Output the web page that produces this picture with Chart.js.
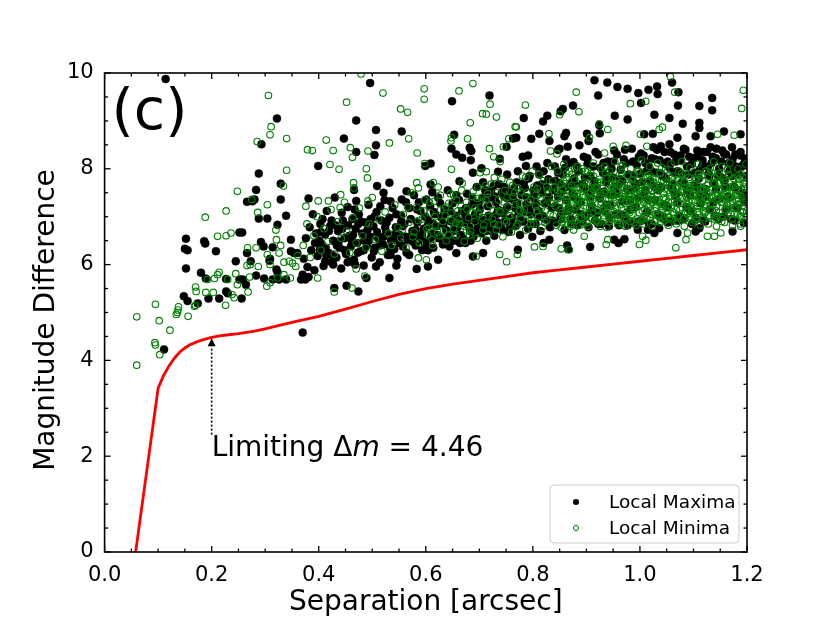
<!DOCTYPE html>
<html><head><meta charset="utf-8">
<script src="https://cdn.jsdelivr.net/npm/chart.js@4.4.1/dist/chart.umd.min.js"></script>
<style>html,body{margin:0;padding:0;background:#fff;}#wrap{width:830px;height:622px;}</style>
</head><body><div id="wrap"><canvas id="c" width="830" height="622"></canvas></div>
<script>
const xTicks = [0.0, 0.2, 0.4, 0.6, 0.8, 1.0, 1.2];
const yTicks = [0, 2, 4, 6, 8, 10];
const seriesNames = ['Local Maxima', 'Local Minima'];
const panelLabel = '(c)';
const xTitle = 'Separation [arcsec]';
const yTitle = 'Magnitude Difference';
const limitX = 0.2;
const limitY = 4.46;
const limitTailY = 2.45;
const limitTextY = 2.0;

// contrast curve (red)
const curveX = [0.058,0.1,0.11,0.12,0.13,0.14,0.15,0.16,0.18,0.2,0.22,0.25,0.28,0.3,0.33,0.36,0.4,0.45,0.5,0.55,0.6,0.65,0.7,0.75,0.8,0.85,0.9,0.95,1.0,1.05,1.1,1.15,1.2];
const curveY = [0,3.42,3.68,3.88,4.04,4.17,4.26,4.33,4.42,4.48,4.52,4.56,4.61,4.66,4.74,4.82,4.92,5.07,5.23,5.38,5.50,5.59,5.67,5.75,5.83,5.89,5.95,6.01,6.07,6.13,6.19,6.25,6.31];

// Local Maxima (black filled)
const maximaPts = [
[0.111,4.23],[0.114,9.875],[0.152,6.54],[0.150,6.33],[0.155,6.30],[0.152,5.92],[0.148,5.34],[0.155,5.24],[0.174,5.19],[0.180,5.83],[0.186,6.49],[0.188,6.44],[0.189,5.71],[0.194,5.29],[0.208,6.28],[0.214,5.29],[0.227,5.44],[0.230,5.40],[0.227,5.70],[0.245,6.07],[0.252,5.69],[0.258,5.69],[0.252,6.67],[0.257,6.67],[0.256,5.29],[0.264,5.58],[0.266,6.24],[0.273,6.07],[0.266,7.31],[0.276,7.32],[0.283,5.77],[0.288,6.96],[0.304,6.96],[0.298,5.71],[0.292,6.47],[0.297,6.38],[0.314,6.36],[0.309,6.12],[0.308,6.08],[0.321,5.90],[0.323,5.84],[0.326,5.69],[0.314,5.69],[0.323,6.83],[0.339,7.02],[0.348,6.52],[0.339,5.69],[0.348,6.28],[0.354,6.24],[0.360,6.24],[0.370,4.58],[0.367,5.69],[0.370,5.79],
[0.322,9.05],[0.293,8.51],[0.288,7.90],[0.329,7.69],[0.283,7.56],[0.280,7.36],[0.329,7.36],
[0.496,9.79],[0.649,9.41],[0.719,9.53],[0.470,9.01],[0.507,8.81],[0.555,8.78],[0.447,8.63],[0.507,8.49],[0.504,8.29],[0.470,8.35],[0.399,8.06],[0.653,8.71],[0.648,8.42],[0.657,8.30],[0.668,8.23],[0.682,8.44],[0.685,8.37],[0.684,8.18],[0.609,8.11],[0.599,8.06],[0.763,8.63],[0.751,8.46],[0.738,8.21],[0.704,8.01],[0.735,7.94],[0.532,7.71],[0.521,7.50],[0.509,7.64],[0.534,7.32],[0.466,7.56],[0.470,7.33],[0.381,7.38],[0.564,7.53],[0.555,7.36],[0.609,7.67],[0.612,7.51],[0.601,7.36],[0.688,7.92],[0.663,7.74],
[0.375,5.69],[0.381,5.74],[0.429,5.51],[0.452,5.56],[0.474,5.44],[0.489,5.72],[0.532,5.72],[0.507,5.96],[0.545,5.98],[0.583,5.91],[0.604,5.96],[0.623,6.10],[0.657,6.24],[0.688,6.17],[0.707,6.24],[0.468,6.0],[0.458,6.07],[0.393,6.45],[0.402,6.31],[0.412,6.07],[0.427,6.0],
[0.915,9.85],[0.939,9.80],[0.958,9.71],[0.977,9.67],[0.997,9.58],[1.016,9.65],[1.032,9.72],[1.033,9.56],[0.922,9.53],[1.06,9.80],[1.072,9.60],[1.071,9.32],[1.135,9.48],[1.135,9.22],[1.111,9.31],[1.002,9.375],[0.856,9.25],[0.852,9.20],[0.827,9.11],[0.819,8.99],[0.783,9.06],[0.875,9.32],[0.953,9.11],[0.977,9.03],[1.027,9.13],[1.055,9.06],[1.080,8.94],[1.111,8.96],[1.111,8.85],[1.157,8.78],[0.924,8.91],[0.925,8.74],[0.812,8.73],[0.797,8.625],[0.831,8.58],[0.862,8.75],[0.859,8.68],[0.901,8.73],[0.904,8.58],[0.887,8.49],[0.865,8.46],[0.850,8.42],[1.008,8.72],[1.024,8.73],[1.055,8.51],[1.039,8.47],[1.070,8.65],[1.104,8.68],[1.132,8.68],[1.188,8.72],[0.791,8.28],[0.781,8.25],[0.787,8.06],[0.847,8.39],[0.876,8.14],[0.769,8.65],
[0.772,6.31],[0.820,6.45],[0.831,6.52],[0.864,6.40],[0.866,6.32],[0.907,6.37],[0.952,6.52],[0.971,6.53],[0.960,6.45],[1.027,6.66],[1.036,6.76],[1.070,6.66],[1.104,6.69],[1.111,6.76],[1.173,6.69],[1.194,6.87],[0.996,6.73],[1.015,6.73],
[0.372,6.12],[0.376,6.55],[0.379,5.95],[0.383,6.78],[0.386,6.30],[0.389,7.05],[0.392,5.88],[0.395,6.65],[0.398,6.18],
[0.403,6.85],[0.406,6.42],[0.409,5.97],[0.412,6.63],[0.415,7.12],[0.418,6.25],[0.421,6.80],[0.424,6.05],[0.427,6.50],[0.430,7.40],[0.433,6.15],[0.436,6.70],[0.439,6.35],[0.442,5.92],[0.445,6.92],[0.448,6.55],
[0.451,6.22],[0.454,7.20],[0.457,6.60],[0.460,6.38],[0.463,6.95],[0.466,6.10],[0.469,6.75],[0.472,6.45],[0.475,7.05],[0.478,6.28],[0.481,6.65],[0.484,5.98],[0.487,6.88],[0.490,6.40],[0.493,7.25],[0.496,6.58],[0.499,6.15],
[0.502,6.80],[0.505,6.35],[0.508,7.10],[0.511,6.55],[0.514,6.05],[0.517,6.92],[0.520,6.42],[0.523,7.35],[0.526,6.68],[0.529,6.20],[0.532,6.98],[0.535,6.50],[0.538,7.18],[0.541,6.32],[0.544,6.78],[0.547,6.12],
[0.551,6.62],[0.554,7.02],[0.557,6.38],[0.560,6.85],[0.563,7.30],[0.566,6.52],[0.569,6.20],[0.572,6.95],[0.575,6.70],[0.578,7.45],[0.581,6.40],[0.584,6.88],[0.587,6.58],[0.590,7.12],[0.593,6.30],[0.596,6.75],[0.599,7.00],
[0.602,6.48],[0.605,6.92],[0.608,7.22],[0.611,6.65],[0.614,6.35],[0.617,7.05],[0.620,6.80],[0.623,7.40],[0.626,6.55],[0.629,6.98],[0.632,6.42],[0.635,7.15],[0.638,6.72],[0.641,7.55],[0.644,6.60],[0.647,6.90],[0.650,7.28],
[0.653,6.50],[0.656,7.02],[0.659,6.78],[0.662,7.35],[0.665,6.62],[0.668,7.12],[0.671,6.88],[0.674,6.45],[0.677,7.48],[0.680,6.95],[0.683,6.70],[0.686,7.25],[0.689,6.58],[0.692,7.05],[0.695,7.62],[0.698,6.82],
[0.701,7.15],[0.704,6.65],[0.707,7.40],[0.710,6.92],[0.713,6.50],[0.716,7.22],[0.719,6.78],[0.722,7.55],[0.725,7.00],[0.728,6.60],[0.731,7.30],[0.734,6.88],[0.737,7.68],[0.740,7.08],[0.743,6.72],[0.746,7.42],[0.749,6.95],
[0.752,7.20],[0.755,6.68],[0.758,7.52],[0.761,6.98],[0.764,7.35],[0.767,6.80],[0.770,7.72],[0.773,7.10],[0.776,6.62],[0.779,7.45],[0.782,6.90],[0.785,7.60],[0.788,7.25],[0.791,6.75],[0.794,7.85],[0.797,7.05],[0.799,6.58],
[0.802,7.38],[0.805,6.85],[0.808,7.65],[0.811,7.12],[0.814,6.70],[0.817,7.50],[0.820,7.95],[0.823,6.95],[0.826,7.30],[0.829,7.78],[0.832,6.78],[0.835,7.18],[0.838,7.58],[0.841,8.05],[0.844,6.88],[0.847,7.42],[0.850,7.70],
[0.853,7.05],[0.856,7.88],[0.859,6.72],[0.862,7.35],[0.865,7.62],[0.868,8.12],[0.871,6.95],[0.874,7.48],[0.877,7.80],[0.880,7.15],[0.883,6.82],[0.886,7.95],[0.889,7.30],[0.892,7.68],[0.895,8.25],[0.898,7.00],
[0.901,7.55],[0.904,6.78],[0.907,7.85],[0.910,7.22],[0.913,8.05],[0.916,6.92],[0.919,7.62],[0.922,8.30],[0.925,7.38],[0.928,6.85],[0.931,7.92],[0.934,7.12],[0.937,7.72],[0.940,8.15],[0.943,6.98],[0.946,7.45],[0.949,7.82],
[0.952,8.38],[0.955,7.05],[0.958,7.65],[0.961,6.82],[0.964,7.98],[0.967,7.32],[0.970,8.20],[0.973,6.95],[0.976,7.58],[0.979,7.88],[0.982,7.15],[0.985,8.42],[0.988,6.88],[0.991,7.70],[0.994,8.08],[0.997,7.40],
[1.001,7.90],[1.004,6.92],[1.007,8.28],[1.010,7.55],[1.013,7.10],[1.016,8.05],[1.019,7.75],[1.022,6.85],[1.025,8.45],[1.028,7.35],[1.031,7.92],[1.034,7.05],[1.037,8.18],[1.040,7.62],[1.043,6.98],[1.046,8.35],[1.049,7.80],
[1.052,7.20],[1.055,8.02],[1.058,6.90],[1.061,7.68],[1.064,8.30],[1.067,7.45],[1.070,7.95],[1.073,7.02],[1.076,8.18],[1.079,7.72],[1.082,6.95],[1.085,8.40],[1.088,7.55],[1.091,7.88],[1.094,7.12],[1.097,8.10],
[1.101,7.65],[1.104,6.98],[1.107,8.25],[1.110,7.80],[1.113,7.28],[1.116,8.05],[1.119,6.92],[1.122,7.58],[1.125,8.35],[1.128,7.90],[1.131,7.15],[1.134,8.12],[1.137,7.70],[1.140,7.02],[1.143,8.42],[1.146,7.85],[1.149,7.38],
[1.152,8.15],[1.155,7.00],[1.158,7.75],[1.161,8.30],[1.164,7.42],[1.167,7.95],[1.170,6.95],[1.173,8.20],[1.176,7.62],[1.179,8.05],[1.182,7.18],[1.185,7.88],[1.188,8.35],[1.191,7.50],[1.194,8.10],[1.197,7.30],[1.199,7.85],
[0.401,6.50],[0.407,6.95],[0.413,6.35],[0.419,6.70],[0.425,6.20],[0.431,6.82],[0.437,6.48],[0.443,7.08],[0.449,6.30],[0.455,6.82],[0.461,6.52],[0.467,7.15],[0.473,6.25],[0.479,6.90],[0.485,6.50],[0.491,6.72],[0.497,6.95],[0.503,6.28],[0.509,6.68],[0.515,7.22],[0.521,6.58],[0.527,6.88],[0.533,6.35],[0.539,6.62],[0.545,7.05],[0.551,6.45],[0.557,6.80],[0.563,6.58],[0.569,7.18],[0.575,6.48],[0.581,6.72],[0.587,7.30],[0.593,6.62],[0.599,6.40],
[0.604,6.82],[0.609,6.55],[0.615,7.10],[0.621,6.62],[0.627,7.28],[0.633,6.85],[0.639,6.52],[0.645,7.12],[0.651,6.70],[0.657,7.45],[0.663,6.90],[0.669,6.55],[0.675,7.18],[0.681,6.78],[0.687,7.38],[0.693,6.90],[0.699,7.28],[0.705,6.80],[0.711,7.55],[0.717,7.02],[0.723,6.70],[0.729,7.42],[0.735,7.15],[0.741,6.85],[0.747,7.62],[0.753,7.38],[0.759,6.88],[0.765,7.58],[0.771,7.28],[0.777,6.95],[0.783,7.70],[0.789,7.40],[0.795,7.18],
[0.801,7.55],[0.806,7.25],[0.812,7.88],[0.818,7.02],[0.824,7.62],[0.830,7.40],[0.836,6.92],[0.842,7.75],[0.848,7.18],[0.854,7.52],[0.860,8.02],[0.866,7.12],[0.872,7.70],[0.878,7.40],[0.884,7.95],[0.890,7.05],[0.896,7.62],[0.902,8.10],[0.908,7.42],[0.914,7.75],[0.920,7.08],[0.926,8.02],[0.932,7.52],[0.938,7.85],[0.944,7.25],[0.950,8.15],[0.956,7.48],[0.962,7.78],[0.968,7.02],[0.974,8.12],[0.980,7.55],[0.986,7.85],[0.992,7.20],[0.998,8.25],
[1.004,7.72],[1.010,8.12],[1.016,7.35],[1.022,7.95],[1.028,8.20],[1.034,7.55],[1.040,7.88],[1.046,7.25],[1.052,8.15],[1.058,7.62],[1.064,7.92],[1.070,7.30],[1.076,8.28],[1.082,7.70],[1.088,8.05],[1.094,7.45],[1.100,8.22],[1.106,7.62],[1.112,7.98],[1.118,8.35],[1.124,7.42],[1.130,7.85],[1.136,8.25],[1.142,7.58],[1.148,8.00],[1.154,8.38],[1.160,7.62],[1.166,8.12],[1.172,7.85],[1.178,8.30],[1.184,7.55],[1.190,8.05],[1.196,8.22],
[0.702,6.95],[0.707,7.72],[0.712,6.70],[0.717,7.38],[0.722,6.88],[0.727,7.65],[0.732,7.05],[0.737,6.75],[0.742,7.50],[0.747,7.12],[0.752,7.88],[0.757,6.82],[0.762,7.45],[0.767,7.18],[0.772,7.95],[0.777,6.90],[0.782,7.62],[0.787,7.10],[0.792,7.80],[0.797,6.85],[0.802,7.45],[0.807,8.05],[0.812,7.00],[0.817,7.68],[0.822,7.28],[0.827,8.12],[0.832,6.88],[0.837,7.55],[0.842,7.22],[0.847,7.92],[0.852,6.95],[0.857,7.60],[0.862,8.20],[0.867,7.18],[0.872,6.85],[0.877,7.70],[0.882,8.05],[0.887,7.30],[0.892,6.90],[0.897,7.82],[0.902,8.22],[0.907,7.08],[0.912,7.60],[0.917,8.35],[0.922,6.85],[0.927,7.48],[0.932,8.12],[0.937,7.25],[0.942,6.80],[0.947,8.00],[0.952,7.62],[0.957,8.30],[0.962,7.05],[0.967,7.75],[0.972,8.40],[0.977,6.82],[0.982,7.35],[0.987,8.15],[0.992,7.60],[0.997,6.90],[1.002,8.32],[1.007,7.45],[1.012,7.95],[1.017,6.85],[1.022,8.22],[1.027,7.62],[1.032,8.40],[1.037,7.00],[1.042,7.85],[1.047,8.10],[1.052,6.88],[1.057,8.35],[1.062,7.55],[1.067,8.15],[1.072,6.92],[1.077,7.90],[1.082,8.42],[1.087,7.20],[1.092,8.25],[1.097,6.85],[1.102,7.92],[1.107,8.38],[1.112,7.45],[1.117,8.18],[1.122,6.90],[1.127,8.05],[1.132,8.45],[1.137,7.30],[1.142,8.22],[1.147,6.95],[1.152,7.82],[1.157,8.32],[1.162,7.15],[1.167,8.10],[1.172,8.45],[1.177,6.92],[1.182,7.95],[1.187,8.28],[1.192,7.40],[1.197,8.15],
[0.404,6.68],[0.414,6.20],[0.424,6.92],[0.434,6.40],[0.444,6.75],[0.454,6.05],[0.464,6.62],[0.474,6.85],[0.484,6.30],[0.494,6.50],[0.504,7.00],[0.514,6.40],[0.524,6.78],[0.534,6.20],[0.544,6.55],[0.554,6.90],[0.564,6.25],[0.574,6.60],[0.584,7.15],[0.594,6.50],[0.604,6.30],[0.614,6.85],[0.624,6.55],[0.634,7.05],[0.644,6.38],[0.654,6.85],[0.664,6.45],[0.674,7.02],[0.684,6.50],[0.694,6.72]
];

// Local Minima (green open)
const minimaPts = [
[0.060,4.91],[0.060,3.90],[0.095,5.17],[0.102,4.83],[0.094,4.37],[0.095,4.32],[0.103,4.12],[0.122,4.63],[0.134,4.96],[0.136,5.00],[0.138,5.12],[0.137,5.05],[0.156,4.92],[0.170,5.53],[0.171,5.44],[0.168,5.13],[0.170,5.15],[0.188,6.99],[0.189,5.42],[0.192,5.69],[0.203,5.42],[0.205,5.71],[0.211,5.79],[0.214,5.84],[0.211,6.59],[0.227,6.60],[0.236,6.66],[0.227,7.12],[0.230,5.69],[0.226,5.15],[0.238,5.375],[0.242,5.31],[0.245,5.81],[0.248,5.58],[0.267,6.35],[0.266,5.98],[0.272,6.0],[0.271,5.74],[0.268,5.43],[0.283,6.35],[0.287,5.96],[0.286,7.09],[0.304,7.25],[0.303,5.55],[0.309,5.62],[0.304,6.21],[0.309,6.0],[0.320,6.72],[0.321,6.52],[0.329,6.40],[0.326,6.24],[0.335,6.05],[0.345,6.07],[0.351,6.03],[0.323,5.72],[0.335,5.79],[0.347,5.72],[0.357,5.96],[0.361,6.19],
[0.306,9.53],[0.311,8.88],[0.309,8.71],[0.340,8.63],[0.285,8.57],[0.340,7.97],[0.334,7.64],[0.248,7.53],[0.275,7.36],
[0.479,9.98],[0.520,9.58],[0.597,9.67],[0.597,9.45],[0.662,9.625],[0.688,9.78],[0.452,9.39],[0.553,9.25],[0.566,9.18],[0.720,9.35],[0.706,9.15],[0.713,9.14],[0.732,9.08],[0.683,8.96],[0.767,8.88],[0.414,8.60],[0.379,8.40],[0.388,8.38],[0.427,8.38],[0.459,8.44],[0.463,8.24],[0.492,8.37],[0.532,8.54],[0.568,8.625],[0.584,8.33],[0.647,8.58],[0.648,8.65],[0.678,8.625],[0.719,8.42],[0.727,8.25],[0.739,8.15],[0.745,8.46],[0.755,8.625],[0.421,8.09],[0.438,7.99],[0.489,8.0],[0.491,7.81],[0.598,8.11],[0.648,7.99],[0.376,7.22],[0.399,7.33],[0.418,7.33],[0.440,7.19],[0.465,7.71],[0.466,7.60],[0.492,7.33],[0.441,7.46],[0.583,7.71],[0.586,7.60],[0.614,7.71],[0.701,7.92],[0.713,7.94],
[0.398,5.72],[0.429,5.43],[0.462,5.51],[0.486,5.76],[0.470,5.91],[0.586,6.14],[0.601,6.10],[0.694,6.17],[0.738,6.21],[0.751,6.06],
[1.057,9.92],[1.193,9.64],[1.190,9.26],[0.881,9.60],[0.786,9.33],[1.065,9.60],[0.982,9.36],[1.011,9.41],[0.886,9.19],[0.850,9.13],[0.769,8.875],[0.924,8.94],[0.940,8.82],[1.042,8.87],[1.036,8.82],[1.001,8.72],[0.830,8.73],[0.974,8.49],[1.013,8.47],[1.145,8.72],[1.176,8.70],[0.833,8.37],[0.845,8.31],[0.906,8.65],[0.934,8.33],[0.950,8.47],
[0.771,6.21],[0.803,6.37],[0.819,6.38],[0.853,6.33],[0.868,6.31],[0.896,6.59],[0.937,6.42],[0.940,6.52],[0.999,6.42],[1.011,6.51],[1.005,6.59],[1.067,6.35],[1.086,6.52],[1.089,6.66],[1.126,6.59],[1.139,6.59],[1.151,6.66],[1.188,6.80],
[0.371,6.40],[0.378,6.85],[0.384,6.15],[0.391,6.60],[0.397,7.00],[0.404,6.30],[0.410,6.75],[0.417,6.48],[0.423,7.15],[0.429,6.22],[0.436,6.90],[0.442,6.55],[0.448,7.30],
[0.452,6.70],[0.458,6.25],[0.464,6.98],[0.470,6.45],[0.476,7.18],[0.482,6.60],[0.488,6.35],[0.494,6.85],[0.500,7.40],[0.506,6.52],[0.512,6.95],[0.518,6.28],[0.524,7.10],[0.530,6.65],[0.536,6.40],[0.542,7.25],[0.548,6.78],
[0.553,6.55],[0.558,7.05],[0.563,6.35],[0.568,6.88],[0.573,7.50],[0.578,6.68],[0.583,7.20],[0.588,6.45],[0.593,6.95],[0.598,7.35],[0.603,6.62],[0.608,7.08],[0.613,6.40],[0.618,6.82],[0.623,7.62],[0.628,7.15],[0.633,6.70],[0.638,6.50],[0.643,7.28],[0.648,6.92],
[0.652,7.45],[0.656,6.60],[0.660,7.12],[0.664,6.85],[0.668,7.70],[0.672,6.48],[0.676,7.30],[0.680,6.98],[0.684,6.70],[0.688,7.52],[0.692,7.18],[0.696,6.55],[0.700,7.05],[0.704,7.40],[0.708,6.82],[0.712,7.65],[0.716,6.62],[0.720,7.25],[0.724,6.95],[0.728,7.82],[0.732,6.72],[0.736,7.35],[0.740,7.10],[0.744,6.58],[0.748,7.55],
[0.751,6.88],[0.754,7.20],[0.757,7.72],[0.760,6.68],[0.763,7.42],[0.766,7.05],[0.769,6.80],[0.772,7.60],[0.775,7.28],[0.778,6.95],[0.781,7.85],[0.784,7.15],[0.787,6.72],[0.790,7.50],[0.793,7.02],[0.796,7.35],[0.799,7.95],[0.802,6.85],[0.805,7.22],[0.808,7.58],[0.811,7.00],[0.814,7.40],[0.817,6.78],[0.820,7.75],[0.823,7.12],[0.826,6.92],[0.829,7.48],[0.832,7.30],[0.835,8.05],[0.838,7.02],[0.841,7.62],[0.844,6.82],[0.847,7.38],
[0.851,7.15],[0.853,7.68],[0.856,6.95],[0.858,7.45],[0.861,7.25],[0.863,7.90],[0.866,6.85],[0.868,7.55],[0.871,7.10],[0.873,7.35],[0.876,6.72],[0.878,7.78],[0.881,7.20],[0.883,7.48],[0.886,6.98],[0.888,7.62],[0.891,7.30],[0.893,8.00],[0.896,7.05],[0.898,7.42],[0.901,6.88],[0.903,7.70],[0.906,7.18],[0.908,7.52],[0.911,6.95],[0.913,7.85],[0.916,7.28],[0.918,7.60],[0.921,7.00],[0.923,7.40],[0.926,6.80],[0.928,7.72],[0.931,7.15],[0.933,7.50],[0.936,7.92],[0.938,7.08],[0.941,7.35],[0.943,6.90],[0.946,7.65],[0.948,7.25],
[0.951,7.45],[0.953,6.98],[0.955,7.78],[0.957,7.18],[0.959,7.55],[0.961,7.02],[0.963,7.38],[0.965,8.05],[0.967,6.85],[0.969,7.62],[0.971,7.28],[0.973,7.48],[0.975,6.95],[0.977,7.85],[0.979,7.12],[0.981,7.42],[0.983,7.68],[0.985,7.05],[0.987,7.32],[0.989,6.88],[0.991,7.58],[0.993,7.22],[0.995,7.95],[0.997,7.40],[0.999,7.08],[1.001,7.52],[1.003,6.92],[1.005,7.72],[1.007,7.30],[1.009,7.15],[1.011,7.60],[1.013,6.98],[1.015,7.45],[1.017,7.88],[1.019,7.25],[1.021,7.05],[1.023,7.55],[1.025,7.35],[1.027,6.90],[1.029,7.78],[1.031,7.18],[1.033,7.48],[1.035,7.02],[1.037,7.65],[1.039,7.28],[1.041,8.02],[1.043,6.95],[1.045,7.40],[1.047,7.58],[1.049,7.12],
[1.051,7.70],[1.053,7.32],[1.055,6.98],[1.057,7.50],[1.059,7.20],[1.061,7.85],[1.063,7.05],[1.065,7.42],[1.067,7.62],[1.069,6.90],[1.071,7.28],[1.073,7.95],[1.075,7.15],[1.077,7.55],[1.079,7.38],[1.081,6.95],[1.083,7.72],[1.085,7.10],[1.087,7.48],[1.089,7.25],[1.091,7.82],[1.093,7.00],[1.095,7.60],[1.097,7.35],[1.099,7.12],
[1.101,7.68],[1.103,6.92],[1.105,7.45],[1.107,7.22],[1.109,7.90],[1.111,7.05],[1.113,7.58],[1.115,7.32],[1.117,7.75],[1.119,6.98],[1.121,7.40],[1.123,7.18],[1.125,7.65],[1.127,7.02],[1.129,7.50],[1.131,8.00],[1.133,7.28],[1.135,7.12],[1.137,7.70],[1.139,6.95],[1.141,7.45],[1.143,7.22],[1.145,7.85],[1.147,7.38],[1.149,7.08],
[1.151,7.55],[1.153,6.90],[1.155,7.30],[1.157,7.72],[1.159,7.15],[1.161,7.48],[1.163,7.98],[1.165,7.02],[1.167,7.62],[1.169,7.25],[1.171,7.40],[1.173,6.95],[1.175,7.80],[1.177,7.18],[1.179,7.52],[1.181,7.35],[1.183,7.05],[1.185,7.68],[1.187,7.28],[1.189,7.90],[1.191,7.10],[1.193,7.45],[1.195,7.62],[1.197,7.00],[1.199,7.38],
[0.556,6.72],[0.566,7.20],[0.576,6.58],[0.586,6.92],[0.596,7.12],[0.606,6.78],[0.616,7.32],[0.626,6.60],[0.636,7.02],[0.646,7.48],[0.656,6.88],[0.666,7.22],[0.676,6.72],[0.686,7.10],[0.696,7.38],[0.706,6.98],[0.716,7.48],[0.726,7.12],[0.736,6.82],[0.746,7.30],[0.756,7.02],[0.766,7.50],[0.776,7.12],[0.786,7.42],[0.796,6.85],[0.806,7.45],[0.816,7.18],[0.826,7.62],[0.836,7.28],[0.846,7.55],
[0.852,7.32],[0.856,7.58],[0.860,7.02],[0.864,7.42],[0.868,7.18],[0.872,7.65],[0.876,7.28],[0.880,6.92],[0.884,7.55],[0.888,7.12],[0.892,7.40],[0.896,7.72],[0.900,7.22],[0.904,7.48],[0.908,6.98],[0.912,7.35],[0.916,7.62],[0.920,7.15],[0.924,7.78],[0.928,7.30],[0.932,6.95],[0.936,7.55],[0.940,7.20],[0.944,7.45],[0.948,7.80],[0.952,7.10],[0.956,7.35],[0.960,7.65],[0.964,7.25],[0.968,7.48],[0.972,7.05],[0.976,7.70],[0.980,7.32],[0.984,7.55],[0.988,7.15],[0.992,7.40],[0.996,7.75],[1.000,7.25],[1.004,7.48],[1.008,7.02],[1.012,7.65],[1.016,7.20],[1.020,7.42],[1.024,7.80],[1.028,7.12],[1.032,7.35],[1.036,7.58],[1.040,7.22],[1.044,7.72],[1.048,7.38],[1.052,7.05],[1.056,7.62],[1.060,7.30],[1.064,7.50],[1.068,7.15],[1.072,7.75],[1.076,7.28],[1.080,7.52],[1.084,6.98],[1.088,7.40],[1.092,7.65],[1.096,7.20],[1.100,7.45],[1.104,7.82],[1.108,7.10],[1.112,7.38],[1.116,7.60],[1.120,7.25],[1.124,7.52],[1.128,7.85],[1.132,7.15],[1.136,7.42],[1.140,7.68],[1.144,7.02],[1.148,7.55],[1.152,7.30],[1.156,7.48],[1.160,7.78],[1.164,7.18],[1.168,7.40],[1.172,7.62],[1.176,7.05],[1.180,7.58],[1.184,7.25],[1.188,7.50],[1.192,7.82],[1.196,7.20],
[0.854,6.88],[0.862,7.82],[0.870,6.80],[0.878,8.00],[0.886,7.35],[0.894,6.85],[0.902,7.95],[0.910,7.60],[0.918,6.90],[0.926,7.50],[0.934,8.05],[0.942,7.00],[0.950,7.60],[0.958,6.92],[0.966,7.92],[0.974,7.40],[0.982,6.90],[0.990,7.88],[0.998,7.55],[1.006,6.95],[1.014,7.85],[1.022,7.30],[1.030,6.92],[1.038,7.90],[1.046,7.00],[1.054,7.85],[1.062,6.95],[1.070,7.62],[1.078,7.90],[1.086,7.32],[1.094,6.95],[1.102,7.55],[1.110,7.88],[1.118,7.12],[1.126,7.35],[1.134,7.92],[1.142,6.98],[1.150,7.72],[1.158,7.35],[1.166,7.88],[1.174,7.30],[1.182,7.85],[1.190,7.00],[1.198,7.68],
[0.8515,7.48],[0.8545,7.08],[0.8575,7.75],[0.8605,6.95],[0.8635,7.32],[0.8665,7.62],[0.8695,7.15],[0.8725,7.88],[0.8755,7.40],[0.8785,7.00],[0.8815,7.58],[0.8845,7.25],[0.8875,7.82],[0.8905,6.98],[0.8935,7.45],[0.8965,7.30],[0.8995,7.68],[0.9025,7.05],[0.9055,7.38],[0.9085,7.90],[0.9115,7.20],[0.9145,7.55],[0.9175,6.92],[0.9205,7.72],[0.9235,7.12],[0.9265,7.45],[0.9295,7.62],[0.9325,7.02],[0.9355,7.35],[0.9385,7.80],[0.9415,7.15],[0.9445,7.58],[0.9475,6.95],[0.9505,7.28],[0.9535,7.70],[0.9565,7.05],[0.9595,7.42],[0.9625,7.88],[0.9655,7.18],[0.9685,7.55],[0.9715,6.98],[0.9745,7.32],[0.9775,7.65],[0.9805,7.08],[0.9835,7.45],[0.9865,7.78],[0.9895,7.22],[0.9925,7.52],[0.9955,6.95],[0.9985,7.35],
[1.0015,7.68],[1.0045,7.12],[1.0075,7.48],[1.0105,7.85],[1.0135,7.25],[1.0165,7.58],[1.0195,6.98],[1.0225,7.40],[1.0255,7.72],[1.0285,7.05],[1.0315,7.55],[1.0345,7.30],[1.0375,7.92],[1.0405,7.15],[1.0435,7.48],[1.0465,6.92],[1.0495,7.65],[1.0525,7.22],[1.0555,7.42],[1.0585,7.80],[1.0615,7.10],[1.0645,7.35],[1.0675,7.58],[1.0705,7.00],[1.0735,7.45],[1.0765,7.72],[1.0795,7.18],[1.0825,7.52],[1.0855,7.88],[1.0885,7.05],[1.0915,7.30],[1.0945,7.62],[1.0975,7.15],
[1.1005,7.48],[1.1035,7.75],[1.1065,6.95],[1.1095,7.40],[1.1125,7.22],[1.1155,7.85],[1.1185,7.55],[1.1215,7.08],[1.1245,7.35],[1.1275,7.68],[1.1305,7.00],[1.1335,7.58],[1.1365,7.25],[1.1395,7.82],[1.1425,7.12],[1.1455,7.45],[1.1485,7.70],[1.1515,6.98],[1.1545,7.38],[1.1575,7.60],[1.1605,7.15],[1.1635,7.50],[1.1665,7.85],[1.1695,7.05],[1.1725,7.32],[1.1755,7.65],[1.1785,7.20],[1.1815,7.45],[1.1845,7.78],[1.1875,7.02],[1.1905,7.55],[1.1935,7.30],[1.1965,7.72],[1.1995,7.12],
[0.853,6.78],[0.858,8.10],[0.863,7.05],[0.868,7.95],[0.873,6.85],[0.878,7.50],[0.883,8.05],[0.888,6.82],[0.893,7.60],[0.898,7.95],[0.903,6.80],[0.908,7.28],[0.913,8.12],[0.918,7.45],[0.923,6.88],[0.928,8.00],[0.933,7.20],[0.938,6.78],[0.943,7.95],[0.948,7.50],[0.953,8.15],[0.958,6.85],[0.963,7.70],[0.968,8.08],[0.973,6.80],[0.978,7.45],[0.983,8.00],[0.988,7.28],[0.993,6.82],[0.998,7.95],
[1.003,8.18],[1.008,6.85],[1.013,7.35],[1.018,8.05],[1.023,6.80],[1.028,7.62],[1.033,8.12],[1.038,6.88],[1.043,7.25],[1.048,7.98],[1.053,6.82],[1.058,8.10],[1.063,7.50],[1.068,6.85],[1.073,7.78],[1.078,8.15],[1.083,6.80],[1.088,7.62],[1.093,8.02],[1.098,6.88],[1.103,7.30],[1.108,8.10],[1.113,6.82],[1.118,7.58],[1.123,7.95],[1.128,6.85],[1.133,7.40],[1.138,8.15],[1.143,6.80],[1.148,7.90],[1.153,8.05],[1.158,6.88],[1.163,7.25],[1.168,8.12],[1.173,6.82],[1.178,7.45],[1.183,8.00],[1.188,6.85],[1.193,7.70],[1.198,8.10],
[0.602,6.75],[0.607,7.30],[0.612,6.52],[0.617,7.00],[0.622,6.68],[0.627,7.45],[0.632,6.90],[0.637,7.20],[0.642,6.62],[0.647,7.08],[0.652,6.75],[0.657,7.35],[0.662,6.95],[0.667,7.55],[0.672,6.80],[0.677,7.15],[0.682,6.62],[0.687,7.42],[0.692,6.90],[0.697,7.62],[0.702,7.20],[0.707,6.72],[0.712,7.35],[0.717,7.00],[0.722,7.68],[0.727,6.85],[0.732,7.50],[0.737,7.12],[0.742,7.78],[0.747,6.92],[0.752,7.40],[0.757,7.02],[0.762,7.65],[0.767,7.25],[0.772,6.85],[0.777,7.52],[0.782,7.08],[0.787,7.82],[0.792,7.30],[0.797,6.95],[0.802,7.62],[0.807,7.12],[0.812,7.88],[0.817,7.35],[0.822,6.88],[0.827,7.55],[0.832,7.05],[0.837,7.75],[0.842,7.22],[0.847,7.95]
];

const FONT = '"DejaVu Sans", "Liberation Sans", sans-serif';
const GREEN = '#008000';

const decorPlugin = {
  id: 'decor',
  afterDraw(chart) {
    const ctx = chart.ctx;
    const xs = chart.scales.x, ys = chart.scales.y;
    const a = chart.chartArea;
    ctx.save();
    ctx.strokeStyle = '#000';
    ctx.lineWidth = 1.3;
    const tick = (x1, y1, x2, y2) => { ctx.beginPath(); ctx.moveTo(x1, y1); ctx.lineTo(x2, y2); ctx.stroke(); };
    for (let i = 0; i <= 24; i++) {
      const px = xs.getPixelForValue(i * 0.05);
      const len = (i % 4 === 0) ? 6 : 3.5;
      tick(px, a.bottom, px, a.bottom - len);
      tick(px, a.top, px, a.top + len);
    }
    for (let i = 0; i <= 20; i++) {
      const py = ys.getPixelForValue(i * 0.5);
      const len = (i % 4 === 0) ? 6 : 3.5;
      tick(a.left, py, a.left + len, py);
      tick(a.right, py, a.right - len, py);
    }
    ctx.lineWidth = 1.6;
    ctx.strokeRect(a.left, a.top, a.right - a.left, a.bottom - a.top);

    // annotation arrow
    const ax = xs.getPixelForValue(limitX);
    const tipY = ys.getPixelForValue(limitY);
    const tailY = ys.getPixelForValue(limitTailY);
    const headH = 8, headW = 4;
    ctx.setLineDash([2, 2]);
    ctx.lineWidth = 1.6;
    tick(ax, tailY, ax, tipY + headH);
    ctx.setLineDash([]);
    ctx.fillStyle = '#000';
    ctx.beginPath();
    ctx.moveTo(ax, tipY);
    ctx.lineTo(ax - headW, tipY + headH);
    ctx.lineTo(ax + headW, tipY + headH);
    ctx.closePath();
    ctx.fill();

    // annotation text
    const fs = 28;
    const parts = [['Limiting ', 'normal'], ['\u0394', 'normal'], ['m', 'italic'], [' = ', 'normal'], ['4.46', 'normal']];
    let cx = ax;
    const ty = ys.getPixelForValue(limitTextY);
    ctx.textBaseline = 'alphabetic';
    ctx.textAlign = 'left';
    for (const [t, st] of parts) {
      ctx.font = st + ' ' + fs + 'px ' + FONT;
      ctx.fillText(t, cx, ty);
      cx += ctx.measureText(t).width;
    }

    // panel label
    ctx.font = '57px ' + FONT;
    ctx.fillText(panelLabel, a.left + 7, a.top + 56);

    // y axis title
    ctx.save();
    ctx.translate(47, 320);
    ctx.rotate(-Math.PI / 2);
    ctx.textAlign = 'center';
    ctx.textBaseline = 'middle';
    ctx.font = '28px ' + FONT;
    ctx.fillText(yTitle, 0, 0);
    ctx.restore();

    // legend
    const lx = 550, ly = 485, lw = 189, lh = 58;
    ctx.beginPath();
    ctx.roundRect(lx, ly, lw, lh, 4);
    ctx.fillStyle = 'rgba(255,255,255,0.8)';
    ctx.fill();
    ctx.strokeStyle = '#cccccc';
    ctx.lineWidth = 1;
    ctx.stroke();
    ctx.fillStyle = '#000';
    ctx.beginPath(); ctx.arc(576, 502, 3, 0, Math.PI * 2); ctx.fill();
    ctx.strokeStyle = GREEN;
    ctx.beginPath(); ctx.arc(576, 528, 2.6, 0, Math.PI * 2); ctx.stroke();
    ctx.font = '18.5px ' + FONT;
    ctx.fillStyle = '#000';
    ctx.textAlign = 'left';
    ctx.textBaseline = 'alphabetic';
    ctx.fillText(seriesNames[0], 609, 507.5);
    ctx.fillText(seriesNames[1], 609, 533.5);
    ctx.restore();
  }
};

new Chart(document.getElementById('c'), {
  type: 'scatter',
  data: {
    datasets: [
      { label: seriesNames[0], data: maximaPts.map(p => ({x: p[0], y: p[1]})), order: 3,
        pointRadius: 4.0, pointBackgroundColor: '#000', pointBorderColor: '#000', pointBorderWidth: 0.5, clip: 0 },
      { label: seriesNames[1], data: minimaPts.map(p => ({x: p[0], y: p[1]})), order: 2,
        pointRadius: 3.3, pointBackgroundColor: 'rgba(0,0,0,0)', pointBorderColor: GREEN, pointBorderWidth: 1.1, clip: 0 },
      { label: 'contrast', type: 'line', data: curveX.map((x, i) => ({x: x, y: curveY[i]})), order: 1,
        borderColor: '#ff0000', borderWidth: 2.8, pointRadius: 0, fill: false, tension: 0, clip: 0 }
    ]
  },
  options: {
    responsive: false,
    animation: false,
    events: [],
    layout: { padding: { left: 0, right: 83, top: 73, bottom: 0 } },
    plugins: { legend: { display: false }, tooltip: { enabled: false } },
    scales: {
      x: {
        type: 'linear', min: 0, max: 1.2,
        afterBuildTicks: s => { s.ticks = xTicks.map(v => ({value: v})); },
        afterFit: s => { s.height = 70; },
        grid: { display: false }, border: { display: false },
        ticks: { font: { family: FONT, size: 21 }, color: '#000', padding: 3, maxRotation: 0,
                 callback: v => Number(v).toFixed(1) },
        title: { display: true, text: xTitle, color: '#000', font: { family: FONT, size: 28 }, padding: { top: 0, bottom: 2.5 } }
      },
      y: {
        type: 'linear', min: 0, max: 10,
        afterBuildTicks: s => { s.ticks = yTicks.map(v => ({value: v})); },
        afterFit: s => { s.width = 104.6; },
        grid: { display: false }, border: { display: false },
        ticks: { font: { family: FONT, size: 21 }, color: '#000', padding: 3,
                 callback: v => String(v) },
        title: { display: false, text: yTitle }
      }
    }
  },
  plugins: [decorPlugin]
});
</script></body></html>
